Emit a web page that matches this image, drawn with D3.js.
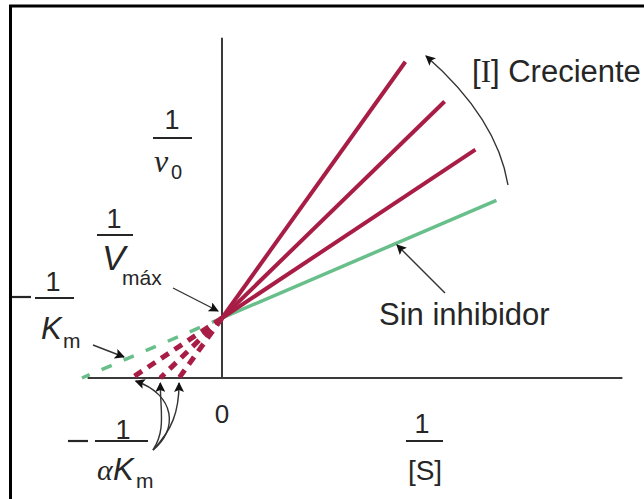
<!DOCTYPE html>
<html>
<head>
<meta charset="utf-8">
<script src="https://cdn.jsdelivr.net/npm/d3@7"></script>
<style>
  html, body { margin: 0; padding: 0; background: #fff; }
  svg { display: block; }
  text { font-family: "Liberation Sans", Arial, sans-serif; fill: #262626; }
</style>
</head>
<body>
<svg id="chart" width="644" height="499"></svg>
<script>
// ---- Data (Lineweaver–Burk, inhibición competitiva) ----
const seriesLabels = ["Sin inhibidor", "[I] baja", "[I] media", "[I] alta"];
const alphaValues  = [1, 1.55, 2.27, 3.26];     // factor alpha de cada recta
const xEnds        = [1.96, 1.81, 1.59, 1.31];  // último valor de 1/[S] dibujado
const invVmax      = 1;                          // 1/Vmax (ordenada en el origen)
const Km           = 1;                          // Km (-1/Km = -1)
const xAxisExtent  = [-0.96, 2.86];
const yAxisExtent  = [0, 5.67];

const W = 644, H = 499;
const svg = d3.select("#chart");

const x = d3.scaleLinear().domain([0, 1]).range([222, 362]);
const y = d3.scaleLinear().domain([0, 1]).range([378, 318]);

const red = "#a81d45", green = "#68bf8a", ink = "#262626", axisCol = "#3a3a3a";

// markers
const defs = svg.append("defs");
defs.append("marker").attr("id", "ah")
  .attr("viewBox", "0 0 10 10").attr("refX", 9).attr("refY", 5)
  .attr("markerWidth", 11).attr("markerHeight", 10)
  .attr("markerUnits", "userSpaceOnUse").attr("orient", "auto")
  .append("path").attr("d", "M0,0 L10,5 L0,10 L2,5 z").attr("fill", "#111");

// frame (top + left only)
svg.append("path").attr("d", `M10.5,${H} V6 H${W}`)
  .attr("fill", "none").attr("stroke", "#000").attr("stroke-width", 3);

// axes
svg.append("line")
  .attr("x1", x(xAxisExtent[0])).attr("x2", x(xAxisExtent[1]))
  .attr("y1", y(0)).attr("y2", y(0))
  .attr("stroke", axisCol).attr("stroke-width", 2);
svg.append("line")
  .attr("x1", x(0)).attr("x2", x(0))
  .attr("y1", y(yAxisExtent[0])).attr("y2", y(yAxisExtent[1]))
  .attr("stroke", axisCol).attr("stroke-width", 2);

// lines
const series = seriesLabels.map((name, i) => ({
  name, alpha: alphaValues[i], xEnd: xEnds[i],
  color: i === 0 ? green : red
}));
const f = (s, v) => invVmax * (1 + s.alpha * Km * v);
const line = d3.line().x(d => x(d[0])).y(d => y(d[1]));

// dashed extensions (from intercept to x-intercept)
series.forEach((s, i) => {
  const xi = -1 / (s.alpha * Km);
  svg.append("path")
    .attr("d", line([[0, f(s, 0)], [xi, f(s, xi)]]))
    .attr("fill", "none").attr("stroke", s.color)
    .attr("stroke-width", i === 0 ? 3.5 : 5)
    .attr("stroke-dasharray", i === 0 ? "11,13" : "9,7");
});
// solid parts
series.forEach((s, i) => {
  svg.append("path")
    .attr("d", line([[0, f(s, 0)], [s.xEnd, f(s, s.xEnd)]]))
    .attr("fill", "none").attr("stroke", s.color)
    .attr("stroke-width", i === 0 ? 3.5 : 4);
});

// annotation arrows
const arrow = d => svg.append("path").attr("d", d).attr("fill", "none")
  .attr("stroke", "#333").attr("stroke-width", 1.4).attr("marker-end", "url(#ah)");
arrow(`M173,288 L${x(0) - 4},${y(invVmax) - 7}`);      // 1/Vmax
arrow(`M93,345 L124,357`);                              // -1/Km
arrow(`M445,293 L397,245`);                             // Sin inhibidor
arrow(`M508,185 Q497,118 426,56`);                      // [I] creciente
const xi = alphaValues.slice(1).map(a => x(-1 / (a * Km)));
arrow(`M153,450 C178,430 176,395 ${xi[0] + 4},381`);
arrow(`M153,450 C166,430 ${xi[1]},412 ${xi[1]},383`);
arrow(`M153,450 C172,430 ${xi[2]},412 ${xi[2]},383`);

// --- text helpers ---
const bar = (x1, x2, yy) => svg.append("line").attr("x1", x1).attr("x2", x2)
  .attr("y1", yy).attr("y2", yy).attr("stroke", ink).attr("stroke-width", 2.2);
const serif = "'Liberation Serif', serif";

// 1 / v0
svg.append("text").attr("x", 172).attr("y", 129).attr("text-anchor", "middle")
  .attr("font-size", 27).text("1");
bar(153, 192, 138);
svg.append("text").attr("x", 154).attr("y", 172)
  .style("font-family", serif).style("font-style", "italic")
  .attr("font-size", 32).text("v");
svg.append("text").attr("x", 171).attr("y", 179).attr("font-size", 20).text("0");

// 1 / Vmáx
svg.append("text").attr("x", 114).attr("y", 228).attr("text-anchor", "middle")
  .attr("font-size", 27).text("1");
bar(97, 133, 235);
svg.append("text").attr("x", 102).attr("y", 270).style("font-style", "italic")
  .attr("font-size", 35).text("V");
svg.append("text").attr("x", 122).attr("y", 285).attr("font-size", 21).text("máx");

// − 1 / Km
bar(12, 31, 297);
svg.append("text").attr("x", 53).attr("y", 291).attr("text-anchor", "middle")
  .attr("font-size", 27).text("1");
bar(35, 74, 298);
svg.append("text").attr("x", 41).attr("y", 339).style("font-style", "italic")
  .attr("font-size", 31).text("K");
svg.append("text").attr("x", 63).attr("y", 348).attr("font-size", 21).text("m");

// − 1 / αKm
bar(68, 88, 441);
svg.append("text").attr("x", 123).attr("y", 439).attr("text-anchor", "middle")
  .attr("font-size", 27).text("1");
bar(95, 148, 441);
svg.append("text").attr("x", 97).attr("y", 480)
  .style("font-family", serif).style("font-style", "italic")
  .attr("font-size", 30).text("α");
svg.append("text").attr("x", 113).attr("y", 480).style("font-style", "italic")
  .attr("font-size", 31).text("K");
svg.append("text").attr("x", 136).attr("y", 488).attr("font-size", 21).text("m");

// 0
svg.append("text").attr("x", x(0)).attr("y", 423).attr("text-anchor", "middle")
  .attr("font-size", 26).text("0");

// 1 / [S]
svg.append("text").attr("x", 422).attr("y", 433).attr("text-anchor", "middle")
  .attr("font-size", 27).text("1");
bar(406, 443, 441);
svg.append("text").attr("x", 425).attr("y", 480).attr("text-anchor", "middle")
  .attr("font-size", 28).text("[S]");

// labels
svg.append("text").attr("x", 379).attr("y", 325).attr("font-size", 31).text(seriesLabels[0]);
const t = svg.append("text").attr("x", 472).attr("y", 82).attr("font-size", 31);
t.append("tspan").text("[");
t.append("tspan").style("font-family", serif).text("I");
t.append("tspan").text("] Creciente");
</script>
</body>
</html>
